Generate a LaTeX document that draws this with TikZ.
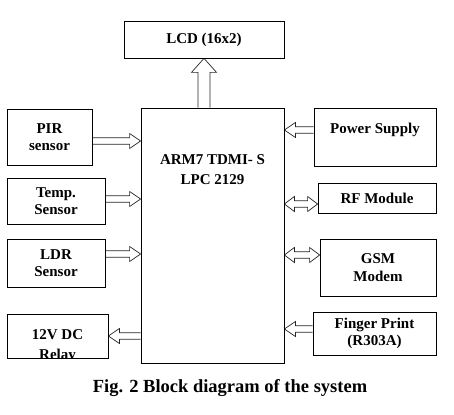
\documentclass[tikz,border=0pt]{standalone}
\usepackage{fontspec}
\setmainfont{Liberation Serif}
\usepackage{tikz}
\usetikzlibrary{calc, positioning, backgrounds}

\begin{document}
\begin{tikzpicture}[
    x=1pt, y=-1pt,
    block/.style = {rectangle, draw=black, line width=0.8pt, fill=white,
                    inner sep=0pt, align=center,
                    font=\fontsize{15}{17.5}\selectfont\bfseries},
    label/.style = {align=center, inner sep=0pt,
                    font=\fontsize{15}{20}\selectfont\bfseries},
    % hollow block arrow: shaft half width, head half width, head length
    onehead/.style n args = {3}{draw=black!85, line width=0.7pt, fill=white,
      to path={
        ($(\tikztotarget)!#3!(\tikztostart)$) coordinate (hb)
        ($(\tikztostart)!#1!90:(\tikztotarget)$)
        -- ($(hb)!#1!90:(\tikztotarget)$)
        -- ($(hb)!#2!90:(\tikztotarget)$)
        -- (\tikztotarget)
        -- ($(hb)!#2!-90:(\tikztotarget)$)
        -- ($(hb)!#1!-90:(\tikztotarget)$)
        -- ($(\tikztostart)!#1!-90:(\tikztotarget)$)}},
    twohead/.style n args = {3}{draw=black!85, line width=0.7pt, fill=white,
      to path={
        ($(\tikztostart)!#3!(\tikztotarget)$) coordinate (ha)
        ($(\tikztotarget)!#3!(\tikztostart)$) coordinate (hb)
        (\tikztostart)
        -- ($(ha)!#2!90:(\tikztotarget)$)
        -- ($(ha)!#1!90:(\tikztotarget)$)
        -- ($(hb)!#1!90:(\tikztotarget)$)
        -- ($(hb)!#2!90:(\tikztotarget)$)
        -- (\tikztotarget)
        -- ($(hb)!#2!-90:(\tikztotarget)$)
        -- ($(hb)!#1!-90:(\tikztotarget)$)
        -- ($(ha)!#1!-90:(\tikztotarget)$)
        -- ($(ha)!#2!-90:(\tikztotarget)$)
        -- cycle}},
    bus/.style   = {onehead={3.3pt}{7.5pt}{11pt}},
    bibus/.style = {twohead={3.3pt}{7.5pt}{10pt}},
    wbus/.style  = {onehead={6pt}{12.5pt}{14pt}}
  ]
  \useasboundingbox (0,0) rectangle (454,414);

  % ── Controller and display ────────────────────────────────────────────────
  \node[block, minimum width=143pt, minimum height=255pt] (arm) at (212.5,235.5) {};
  \node[label] (armtxt) at (212.5,169.5) {ARM7 TDMI- S\\LPC 2129};
  \node[block, minimum width=160pt, minimum height=37pt] (lcd) at (204,39.5) {LCD (16x2)};

  % ── Inputs / outputs on the left ──────────────────────────────────────────
  \node[block, minimum width=85pt,  minimum height=56pt] (pir)   at (49.5,137) {PIR\\sensor};
  \node[block, minimum width=98pt,  minimum height=46pt] (temp)  at (56,201)   {Temp.\\Sensor};
  \node[block, minimum width=98pt,  minimum height=48pt] (ldr)   at (56,263)   {LDR\\Sensor};
  \node[block, minimum width=101pt, minimum height=44pt] (relay) at (57.5,336) {};
  \begin{scope}
    \clip (relay.north west) rectangle (relay.south east);
    \node[label] (relaytxt) at (57.5,346.5) {12V DC\\Relay};
  \end{scope}

  % ── Modules on the right ──────────────────────────────────────────────────
  \node[block, minimum width=122pt, minimum height=58pt] (power)  at (375,137)   {Power Supply\\\mbox{}};
  \node[block, minimum width=118pt, minimum height=30pt] (rf)     at (377,198)   {RF Module};
  \node[block, minimum width=116pt, minimum height=57pt] (gsm)    at (378,267.5) {GSM\\Modem};
  \node[block, minimum width=123pt, minimum height=43pt] (finger) at (374.5,333.5) {Finger Print\\(R303A)};

  % ── Buses ─────────────────────────────────────────────────────────────────
  \begin{scope}[on background layer]
    \draw[wbus]  (arm.north -| lcd) to (lcd.south);
    \draw[bus]   ([yshift=-4pt]pir.east)  to ([yshift=-4pt]arm.west |- pir.east);
    \draw[bus]   ([yshift=2pt]temp.east)  to ([yshift=2pt]arm.west |- temp.east);
    \draw[bus]   ([yshift=9pt]ldr.east)   to ([yshift=9pt]arm.west |- ldr.east);
    \draw[bus]   (arm.west |- relay.east) to (relay.east);
    \draw[bus]   ([yshift=7pt]power.west) to ([yshift=7pt]arm.east |- power.west);
    \draw[bibus] ([yshift=-6pt]arm.east |- rf.west) to ([yshift=-6pt]rf.west);
    \draw[bibus] ([yshift=12.5pt]arm.east |- gsm.west) to ([yshift=12.5pt]gsm.west);
    \draw[bus]   ([yshift=4.5pt]finger.west) to ([yshift=4.5pt]arm.east |- finger.west);
  \end{scope}

  % ── Caption ───────────────────────────────────────────────────────────────
  \node[font=\fontsize{18.5}{20}\selectfont\bfseries, inner sep=0pt] (caption) at (230,388)
    {Fig. 2 Block diagram of the system};

\end{tikzpicture}
\end{document}
